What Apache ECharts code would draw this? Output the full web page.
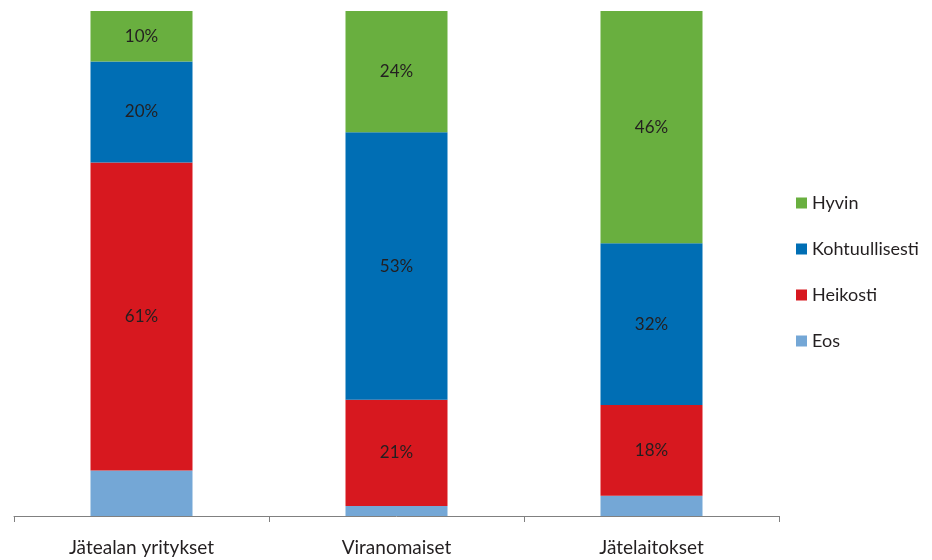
<!DOCTYPE html>
<html>
<head>
<meta charset="utf-8">
<script src="https://cdn.jsdelivr.net/npm/echarts@6/dist/echarts.min.js"></script>
<style>
  html, body { margin: 0; padding: 0; background: #fff; }
  #chart { width: 932px; height: 560px; }
</style>
</head>
<body>
<div id="chart"></div>
<script>
// Categories along the x axis
const categories = ['Jätealan yritykset', 'Viranomaiset', 'Jätelaitokset'];

// Shares (%) per answer, stacked bottom to top
const eos = [9, 2, 4];
const heikosti = [61, 21, 18];
const kohtuullisesti = [20, 53, 32];
const hyvin = [10, 24, 46];

const FONT = 'Lato, "Open Sans", sans-serif';

const labelStyle = {
  show: true,
  position: 'inside',
  formatter: p => p.value + '%',
  color: '#231f20',
  fontFamily: FONT,
  fontSize: 17
};

function bar(name, data, color, withLabel) {
  return {
    name: name,
    type: 'bar',
    stack: 'total',
    data: data,
    barWidth: '40%',
    itemStyle: { color: color },
    label: withLabel ? labelStyle : { show: false },
    emphasis: { disabled: true }
  };
}

const chart = echarts.init(document.getElementById('chart'));
chart.setOption({
  animation: false,
  grid: { left: 14, right: 153, top: 11, bottom: 44, containLabel: false },
  legend: {
    orient: 'vertical',
    left: 791,
    top: 189,
    itemWidth: 11,
    itemHeight: 11,
    itemGap: 28,
    icon: 'rect',
    data: ['Hyvin', 'Kohtuullisesti', 'Heikosti', 'Eos'],
    textStyle: { fontFamily: FONT, fontSize: 18, color: '#231f20' }
  },
  xAxis: {
    type: 'category',
    data: categories,
    axisLine: { lineStyle: { color: '#808080', width: 1 } },
    axisTick: { show: true, length: 6, lineStyle: { color: '#808080' } },
    axisLabel: { fontFamily: FONT, fontSize: 19, color: '#231f20', margin: 22 }
  },
  yAxis: {
    type: 'value',
    min: 0,
    max: 100,
    show: false
  },
  series: [
    bar('Eos', eos, '#74a7d6', false),
    bar('Heikosti', heikosti, '#d7181f', true),
    bar('Kohtuullisesti', kohtuullisesti, '#006eb4', true),
    bar('Hyvin', hyvin, '#69af3f', true)
  ]
});
</script>
</body>
</html>
